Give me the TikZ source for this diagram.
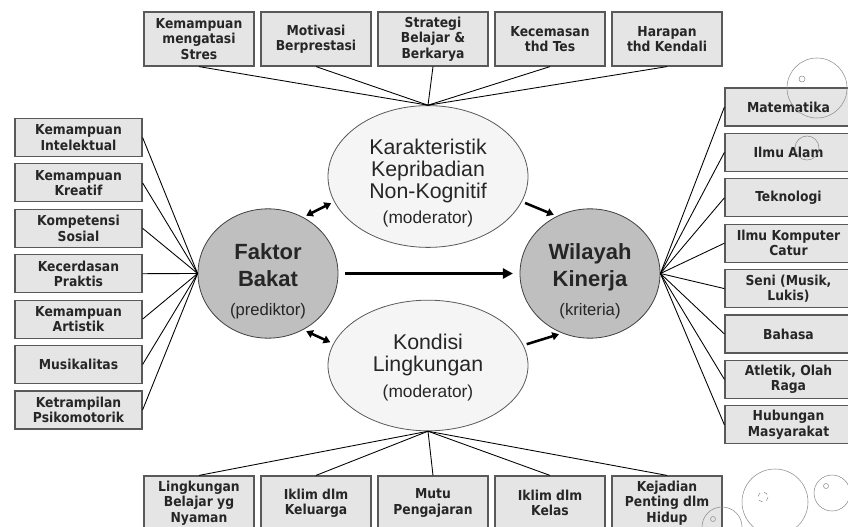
\documentclass[tikz,border=0pt]{standalone}
\usepackage{fontspec}
\setmainfont{Liberation Sans}
\newfontfamily\kotakfont{DejaVu Sans Condensed}
\usetikzlibrary{shapes.geometric,arrows.meta}

\begin{document}
\begin{tikzpicture}[x=0.75pt,y=-0.75pt,
  kotak/.style={draw=black!65,fill=black!10,line width=0.9pt,minimum width=82.5pt,minimum height=40.5pt,inner sep=1pt,align=center,text=black!85,font=\kotakfont\bfseries\fontsize{10.3}{11.5}\selectfont},
  sisi/.style={kotak,minimum width=95.25pt,minimum height=28.5pt},
  moderator/.style={ellipse,draw=black!65,fill=black!4,line width=0.6pt,inner sep=0pt,minimum width=150pt,minimum height=96pt,align=center,text=black!85,font=\fontsize{16}{16.5}\selectfont},
  inti/.style={ellipse,draw=black!75,fill=black!25,line width=0.6pt,inner sep=0pt,minimum width=105pt,minimum height=85pt,align=center,text=black!85,font=\bfseries\fontsize{16.5}{20}\selectfont},
  garis/.style={line width=0.65pt},
  utama/.style={line width=2.2pt,-{Triangle[length=7.5pt,width=7.5pt]},shorten <=5pt,shorten >=5pt},
  dua/.style={line width=1.9pt,{Triangle[length=5pt,width=6pt]}-{Triangle[length=5pt,width=6pt]},shorten <=2.5pt,shorten >=2.5pt},
  satu/.style={line width=1.9pt,-{Triangle[length=5pt,width=6pt]},shorten <=2.5pt,shorten >=2.5pt},
  gelembung/.style={draw=black!45,line width=0.4pt}]
\useasboundingbox (0,0) rectangle (848,527);

% ellipses
\node[moderator] (kk) at (428,176.5) {\rule{0pt}{21pt}Karakteristik\\Kepribadian\\Non-Kognitif\\[2pt]{\fontsize{13}{15}\selectfont (moderator)}};
\node[moderator,minimum height=98pt] (kl) at (428,365.5) {\rule{0pt}{15pt}Kondisi\\Lingkungan\\[3pt]{\fontsize{13}{15}\selectfont (moderator)}};
\node[inti] (fb) at (268,273.5) {\rule{0pt}{24pt}Faktor\\Bakat\\[2pt]{\mdseries\fontsize{12.5}{14}\selectfont (prediktor)}};
\node[inti] (wk) at (590,273.5) {\rule{0pt}{24pt}Wilayah\\Kinerja\\[2pt]{\mdseries\fontsize{12.5}{14}\selectfont (kriteria)}};

% top
\node[kotak] (t1) at (199,39) {Kemampuan\\mengatasi\\Stres};
\node[kotak] (t2) at (316,39) {Motivasi\\Berprestasi};
\node[kotak] (t3) at (433,39) {Strategi\\Belajar \&\\Berkarya};
\node[kotak] (t4) at (550,39) {Kecemasan\\thd Tes};
\node[kotak] (t5) at (667,39) {Harapan\\thd Kendali};

% bottom
\node[kotak] (b1) at (199,503) {Lingkungan\\Belajar yg\\Nyaman};
\node[kotak] (b2) at (316,503) {Iklim dlm\\Keluarga};
\node[kotak] (b3) at (433,503) {Mutu\\Pengajaran};
\node[kotak] (b4) at (550,503) {Iklim dlm\\Kelas};
\node[kotak] (b5) at (667,503) {Kejadian\\Penting dlm\\Hidup};

% left
\node[sisi] (l1) at (78.5,137.5) {Kemampuan\\Intelektual};
\node[sisi] (l2) at (78.5,182.9) {Kemampuan\\Kreatif};
\node[sisi] (l3) at (78.5,228.3) {Kompetensi\\Sosial};
\node[sisi] (l4) at (78.5,273.7) {Kecerdasan\\Praktis};
\node[sisi] (l5) at (78.5,319.1) {Kemampuan\\Artistik};
\node[sisi] (l6) at (78.5,364.5) {Musikalitas};
\node[sisi] (l7) at (78.5,409.9) {Ketrampilan\\Psikomotorik};

% right
\node[sisi] (r1) at (788.5,107) {Matematika};
\node[sisi] (r2) at (788.5,152.4) {Ilmu Alam};
\node[sisi] (r3) at (788.5,197.8) {Teknologi};
\node[sisi] (r4) at (788.5,243.2) {Ilmu Komputer\\Catur};
\node[sisi] (r5) at (788.5,288.6) {Seni (Musik,\\Lukis)};
\node[sisi] (r6) at (788.5,334) {Bahasa};
\node[sisi] (r7) at (788.5,379.4) {Atletik, Olah\\Raga};
\node[sisi] (r8) at (788.5,424.8) {Hubungan\\Masyarakat};

% fans
\draw[garis] (t1.south) -- (kk.north);
\draw[garis] (t2.south) -- (kk.north);
\draw[garis] (t3.south) -- (kk.north);
\draw[garis] (t4.south) -- (kk.north);
\draw[garis] (t5.south) -- (kk.north);
\draw[garis] (b1.north) -- (kl.south);
\draw[garis] (b2.north) -- (kl.south);
\draw[garis] (b3.north) -- (kl.south);
\draw[garis] (b4.north) -- (kl.south);
\draw[garis] (b5.north) -- (kl.south);
\draw[garis] (l1.east) -- (fb.west);
\draw[garis] (l2.east) -- (fb.west);
\draw[garis] (l3.east) -- (fb.west);
\draw[garis] (l4.east) -- (fb.west);
\draw[garis] (l5.east) -- (fb.west);
\draw[garis] (l6.east) -- (fb.west);
\draw[garis] (l7.east) -- (fb.west);
\draw[garis] (r1.west) -- (wk.east);
\draw[garis] (r2.west) -- (wk.east);
\draw[garis] (r3.west) -- (wk.east);
\draw[garis] (r4.west) -- (wk.east);
\draw[garis] (r5.west) -- (wk.east);
\draw[garis] (r6.west) -- (wk.east);
\draw[garis] (r7.west) -- (wk.east);
\draw[garis] (r8.west) -- (wk.east);

% arrows
\draw[utama] (fb) -- (wk);
\draw[dua] (fb.58) -- (kk.195);
\draw[dua] (fb.-58) -- (kl.167);
\draw[satu] (kk.-15) -- (wk.120);
\draw[satu] (kl.12) -- (wk.-115);

% bubbles
\draw[gelembung] (817,88) circle[radius=30];
\draw[gelembung] (802,79) circle[radius=3];
\draw[gelembung] (807,148) circle[radius=12];
\draw[gelembung] (775,502) circle[radius=33];
\draw[gelembung,dashed] (763,497) circle[radius=5];
\draw[gelembung] (832,493) circle[radius=18];
\draw[gelembung] (826,486) circle[radius=2.5];
\draw[gelembung] (722,527) circle[radius=20];
\draw[gelembung] (713,519) circle[radius=2.5];
\end{tikzpicture}
\end{document}
